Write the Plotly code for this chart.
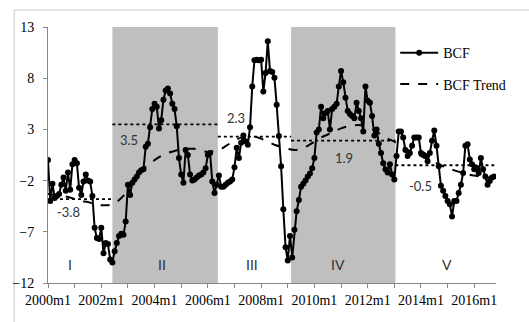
import plotly.graph_objects as go

# monthly BCF series, 2000m1 .. 2016m10
bcf = [
    0.0, -4.0, -2.3, -3.7, -3.5, -3.3, -2.4, -1.7, -3.0, -1.2, -2.9, -0.4,
    0.0, -0.3, -2.7, -3.4, -2.1, -1.4, -2.0, -2.1, -3.5, -6.6, -7.6, -7.7,
    -6.6, -9.1, -8.1, -8.2, -9.7, -10.0, -8.9, -8.1, -7.4, -7.2, -7.3, -6.0,
    -2.4, -3.4, -2.2, -1.9, -1.6, -1.2, -1.0, -0.9, 1.3, 1.6, 3.2, 5.0,
    5.5, 5.2, 3.1, 3.9, 5.9, 6.8, 7.0, 6.5, 5.5, 5.0, 3.3, 0.2,
    -1.4, -2.2, 1.0, 0.5, -1.4, -2.0, -1.9, -1.7, -1.5, -1.4, -1.2, -0.8,
    0.5, 0.7, -2.1, -3.2, -2.4, -1.5, -2.6, -2.6, -2.4, -2.2, -2.1, -1.9,
    -0.7, 1.2, 0.2, 1.7, 2.4, 1.85, 1.5, 3.2, 7.2, 9.75, 9.8, 9.75,
    9.8, 6.7, 8.5, 11.6, 8.7, 8.6, 8.05, 5.4, 2.35, -0.6, -4.8, -8.5,
    -9.8, -7.4, -9.5, -6.8, -5.0, -3.9, -2.6, -2.3, -2.0, -1.6, -1.3, -0.8,
    0.2, 2.7, 3.0, 5.2, 4.1, 4.6, 4.8, 3.0, 5.0, 5.2, 5.5, 7.2,
    8.7, 7.6, 6.1, 4.8, 4.5, 4.3, 4.1, 5.6, 4.8, 4.1, 2.8, 7.2,
    5.8, 5.6, 4.3, 2.4, 3.0, 1.6, 0.7, -0.3, -0.9, -1.2, -0.4, -1.4,
    -1.9, 0.4, 2.8, 2.8, 2.2, 1.0, 0.4, 0.7, 1.4, 2.2, 2.2, 2.2,
    0.7, 0.55, 0.4, -0.1, 0.7, 1.9, 2.9, 1.4, -0.6, -2.5, -3.0, -3.5,
    -4.0, -4.3, -5.5, -4.0, -4.0, -3.2, -2.4, -1.25, 1.4, 1.55, 0.06, -0.4,
    -0.9, -0.75, -1.25, 0.2, -0.9, -1.6, -2.4, -2.05, -1.7, -1.6,
]

# BCF trend, read every third month (2000m1, 2000m4, ...)
trend = [
    -3.3, -3.4, -3.5, -3.6, -3.8, -4.0, -4.1, -4.3, -4.4, -4.4, -4.2, -3.7,
    -2.9, -1.9, -1.0, -0.5, 0.0, 0.4, 0.7, 0.9, 1.0, 1.1, 1.1, 0.9,
    0.8, 0.9, 1.1, 1.5, 1.9, 2.2, 2.3, 2.3, 2.1, 1.8, 1.5, 1.3,
    1.1, 1.0, 1.1, 1.4, 1.8, 2.2, 2.5, 2.8, 3.1, 3.3, 3.4, 3.4,
    3.2, 2.9, 2.5, 2.1, 1.8, 1.4, 1.0, 0.7, 0.4, 0.1, -0.2, -0.5,
    -0.8, -1.0, -1.2, -1.4, -1.5, -1.6, -1.7, -1.7,
]

# regimes: boundaries (month index), average BCF, labels
period_edges = [0, 29, 76.5, 109.5, 156.5, 201]
period_means = [-3.8, 3.5, 2.3, 1.9, -0.5]
period_names = ["I", "II", "III", "IV", "V"]
shaded = [1, 3]

months = [f"{2000 + i // 12}m{i % 12 + 1}" for i in range(len(bcf))]
month_idx = list(range(len(bcf)))
trend_idx = list(range(0, len(bcf), 3))

SERIF = "Liberation Serif"
SANS = "Lato"

fig = go.Figure()

for k in shaded:
    fig.add_shape(type="rect", xref="x", yref="y", x0=period_edges[k], x1=period_edges[k + 1],
                  y0=-12, y1=13, fillcolor="#bfbfbf", line_width=0, layer="below")

for k, m in enumerate(period_means):
    fig.add_shape(type="line", xref="x", yref="y", x0=period_edges[k], x1=period_edges[k + 1],
                  y0=m, y1=m, line=dict(color="black", width=1.8, dash="dot"))

fig.add_trace(go.Scatter(x=month_idx, y=bcf, mode="lines+markers", name="BCF",
                         customdata=months, hovertemplate="%{customdata}: %{y}<extra></extra>",
                         line=dict(color="black", width=2),
                         marker=dict(color="black", size=6),
                         legendgroup="a"))
fig.add_trace(go.Scatter(x=trend_idx, y=trend, mode="lines", name="BCF Trend",
                         line=dict(color="black", width=2, dash="dash", shape="spline"),
                         legendgroup="b"))

# mean labels
mean_pos = [(9.3, -5.05), (36.7, 2.0), (84.6, 4.1), (133.5, 0.2), (168, -2.55)]
for (px_, py_), m in zip(mean_pos, period_means):
    fig.add_annotation(x=px_, y=py_, text=f"{m:.1f}", showarrow=False,
                       font=dict(family=SANS, size=13, color="#333333"))

name_x = [9.9, 51.5, 91.8, 130.8, 179.6]
for nx, nm in zip(name_x, period_names):
    fig.add_annotation(x=nx, y=-10.2, text=nm, showarrow=False,
                       font=dict(family=SANS, size=14, color="#333333"))

# chart border (left and top edges visible)
fig.add_shape(type="rect", xref="paper", yref="paper", x0=-0.0755, x1=1.1, y0=-0.16, y1=1.066,
              line=dict(color="#c8c8c8", width=1), fillcolor="rgba(0,0,0,0)", layer="below")

tickvals = list(range(0, len(bcf), 12))
ticktext = [months[t] if (t // 12) % 2 == 0 else "" for t in tickvals]

fig.update_xaxes(range=[0, 201.8], tickvals=tickvals, ticktext=ticktext,
                 showgrid=False, zeroline=False, showline=True, linecolor="#868686",
                 ticks="outside", ticklen=4, tickcolor="#868686",
                 tickfont=dict(family=SERIF, size=14, color="black"))
fig.update_yaxes(range=[-12, 13], tickvals=[-12, -7, -2, 3, 8, 13],
                 showgrid=False, zeroline=False, showline=True, linecolor="#868686",
                 ticks="outside", ticklen=4, tickcolor="#868686", ticklabelstandoff=6,
                 tickfont=dict(family=SERIF, size=14, color="black"))

fig.update_layout(
    width=529, height=322,
    margin=dict(l=46, r=32.5, t=27, b=39.3),
    plot_bgcolor="white", paper_bgcolor="white",
    showlegend=True,
    legend=dict(x=0.775, y=0.96, xanchor="left", yanchor="top",
                bgcolor="rgba(0,0,0,0)", itemwidth=38, tracegroupgap=10,
                traceorder="grouped",
                font=dict(family=SERIF, size=14, color="black")),
    hovermode=False,
)

fig.write_html("out.html", config={"displayModeBar": False},
               post_script="document.body.style.margin='0';")
